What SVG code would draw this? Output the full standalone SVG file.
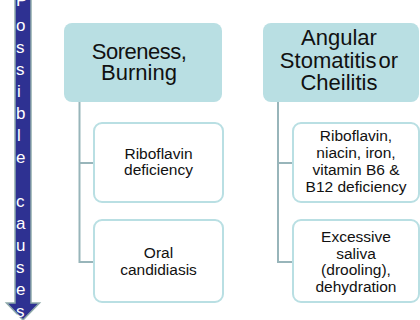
<svg xmlns="http://www.w3.org/2000/svg" width="420" height="320" viewBox="0 0 420 320">
<style>
.parent{fill:#B9DFE3;stroke:none}
.child{fill:#FFFFFF;stroke:#B9DFE3;stroke-width:2}
.pt{font-family:"Liberation Sans",Arial,sans-serif;font-size:22px;fill:#111;text-anchor:middle}
.ct{font-family:"Liberation Sans",Arial,sans-serif;font-size:15.5px;fill:#111;text-anchor:middle}
.conn{fill:none;stroke:#98B5BA;stroke-width:2}
.arrowtxt{font-family:"Liberation Sans",Arial,sans-serif;font-size:17px;fill:#FFFFFF}
</style>
<rect width="420" height="320" fill="#FFFFFF"/>
<g id="arrow">
<path d="M15,-2 L31,-2 L31,303 L39.5,303 L23,320 L6.5,303 L15,303 Z" fill="#2E3192" stroke="#8FAAAA" stroke-width="1.5"/>
<text class="arrowtxt" x="16"><tspan x="16" y="5.5">P</tspan><tspan x="16" y="31">o</tspan><tspan x="16" y="53">s</tspan><tspan x="16" y="75">s</tspan><tspan x="17" y="97">i</tspan><tspan x="16" y="119">b</tspan><tspan x="17" y="141">l</tspan><tspan x="16" y="163">e</tspan><tspan x="16" y="207">c</tspan><tspan x="16" y="229">a</tspan><tspan x="16" y="251">u</tspan><tspan x="16" y="273">s</tspan><tspan x="16" y="295">e</tspan><tspan x="16" y="317">s</tspan></text>
</g>
<g id="connectors">
<path class="conn" d="M79.5,102 V262 H94 M79.5,163 H94"/>
<path class="conn" d="M278,102 V262 H293 M278,163 H293"/>
</g>
<g id="node-soreness">
<rect class="parent" x="64" y="23" width="158" height="79" rx="8"/>
<text class="pt"><tspan x="139" y="59" letter-spacing="-0.5">Soreness,</tspan><tspan x="139" y="80">Burning</tspan></text>
</g>
<g id="node-angular">
<rect class="parent" x="263" y="23" width="156" height="79" rx="8"/>
<text class="pt"><tspan x="339" y="45">Angular</tspan><tspan x="339" y="68" word-spacing="-4">Stomatitis or</tspan><tspan x="339" y="90">Cheilitis</tspan></text>
</g>
<g id="node-riboflavin">
<rect class="child" x="94" y="123" width="129" height="79" rx="8"/>
<text class="ct"><tspan x="158.5" y="159">Riboflavin</tspan><tspan x="158.5" y="175">deficiency</tspan></text>
</g>
<g id="node-candidiasis">
<rect class="child" x="94" y="220" width="129" height="82" rx="8"/>
<text class="ct"><tspan x="158.5" y="258">Oral</tspan><tspan x="158.5" y="275">candidiasis</tspan></text>
</g>
<g id="node-vitamins">
<rect class="child" x="293" y="123" width="126" height="79" rx="8"/>
<text class="ct"><tspan x="356" y="141">Riboflavin,</tspan><tspan x="356" y="158">niacin, iron,</tspan><tspan x="356" y="175">vitamin  B6 &amp;</tspan><tspan x="356" y="192">B12 deficiency</tspan></text>
</g>
<g id="node-saliva">
<rect class="child" x="293" y="220" width="126" height="82" rx="8"/>
<text class="ct"><tspan x="356" y="242">Excessive</tspan><tspan x="356" y="258.5">saliva</tspan><tspan x="356" y="275">(drooling),</tspan><tspan x="356" y="292">dehydration</tspan></text>
</g>
</svg>
